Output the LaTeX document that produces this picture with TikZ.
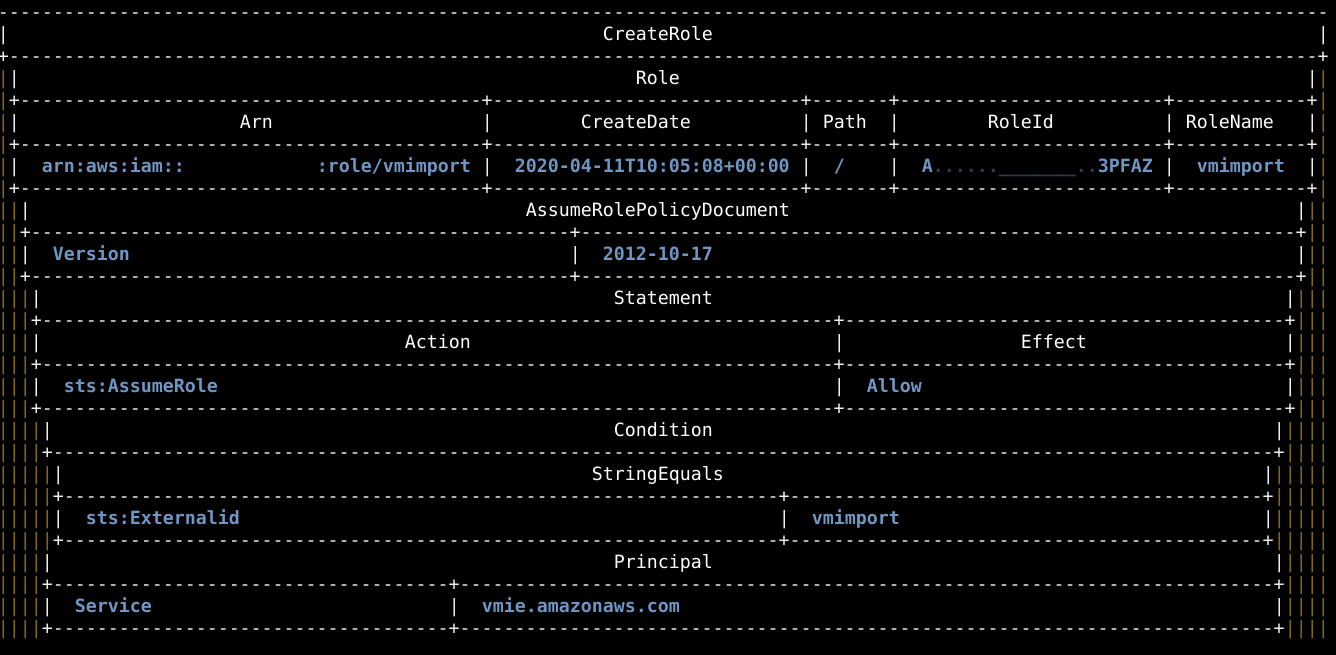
\documentclass[tikz,border=0pt]{standalone}
\usepackage{fontspec}
\usepackage{tikz}
\newfontfamily\term{DejaVu Sans Mono}
\newcommand\termfont{\term\fontsize{13.7032pt}{16.5pt}\selectfont}
\newcommand\dashrun[1]{\foreach \i in {1,...,#1}{-}}
\definecolor{rimwhite}{RGB}{238,238,238}
\definecolor{rimgold}{RGB}{132,102,20}
\definecolor{valblue}{RGB}{112,150,196}
\definecolor{smudge}{RGB}{48,60,78}
\tikzset{
  txt/.style={anchor=base west, inner sep=0pt, font=\termfont},
  rim/.style={txt, text=rimwhite},
  goldrim/.style={txt, text=rimgold},
  head/.style={txt, text=white},
  val/.style={txt, text=valblue, font=\termfont\bfseries},
  pics/bars/.style={
    code = {
        \node [goldrim] {\foreach \i in {1,...,#1}{|}};
    }
  },
  pics/rule/.style={
    code = {
        \node [rim] {+\foreach \n in #1 {\dashrun{\n}+}};
    }
  }
}
\begin{document}
\begin{tikzpicture}
  \fill [black] (0,0) rectangle (1002pt,-491.25pt);
  \useasboundingbox (0,0) rectangle (1002pt,-491.25pt);
  \begin{scope}[shift={(-1.875pt,-14.25pt)}, x=8.25pt, y=-16.5pt]
    % borders of the outer tables, kept in gold
    \foreach \a/\b/\d in {3/8/1, 9/12/2, 13/18/3, 19/20/4, 21/24/5, 25/28/4}
        \foreach \r in {\a,...,\b} {
            \pic at (0,\r) {bars=\d};
            \pic at ({121-\d},\r) {bars=\d};
        }
    % dashed rules
    \node [rim] (top) at (0,0) {\dashrun{121}};
    \foreach \r/\c/\segs in {2/0/{119}, 4/1/{42,28,7,24,12}, 6/1/{42,28,7,24,12}, 8/1/{42,28,7,24,12},
        10/2/{49,65}, 12/2/{49,65}, 14/3/{72,40}, 16/3/{72,40}, 18/3/{72,40}, 20/4/{111},
        22/5/{65,43}, 24/5/{65,43}, 26/4/{36,74}, 28/4/{36,74}}
        \pic at (\c,\r) {rule=\segs};
    % column bars
    \foreach \r/\cols in {1/{0,120}, 3/{1,119}, 5/{1,44,73,81,106,119}, 7/{1,44,73,81,106,119},
        9/{2,118}, 11/{2,52,118}, 13/{3,117}, 15/{3,76,117}, 17/{3,76,117}, 19/{4,116},
        21/{5,115}, 23/{5,71,115}, 25/{4,116}, 27/{4,41,116}}
        \foreach \c in \cols
            \node [rim] at (\c,\r) {|};

    \node [head] (createrole) at (55,1) {CreateRole};
    \node [head] (role) at (58,3) {Role};
    \node [head] (arn) at (22,5) {Arn};
    \node [head] (createdate) at (53,5) {CreateDate};
    \node [head] (path) at (75,5) {Path};
    \node [head] (roleid) at (90,5) {RoleId};
    \node [head] (rolename) at (108,5) {RoleName};
    \node [head] (policy) at (48,9) {AssumeRolePolicyDocument};
    \node [head] (statement) at (56,13) {Statement};
    \node [head] (action) at (37,15) {Action};
    \node [head] (effect) at (93,15) {Effect};
    \node [head] (condition) at (56,19) {Condition};
    \node [head] (stringequals) at (54,21) {StringEquals};
    \node [head] (principal) at (56,25) {Principal};

    \node [val] (arnval) at (4,7) {arn:aws:iam::};
    \node [val] (arnrole) at (29,7) {:role/vmimport};
    \node [val] (dateval) at (47,7) {2020-04-11T10:05:08+00:00};
    \node [val] (pathval) at (76,7) {/};
    \node [val] (roleidval) at (84,7) {A\textcolor{smudge}{......\_\_\_\_\_\_\_..}3PFAZ};
    \node [val] (rolenameval) at (109,7) {vmimport};
    \node [val] (version) at (5,11) {Version};
    \node [val] (versionval) at (55,11) {2012-10-17};
    \node [val] (actionval) at (6,17) {sts:AssumeRole};
    \node [val] (effectval) at (79,17) {Allow};
    \node [val] (extid) at (8,23) {sts:Externalid};
    \node [val] (extidval) at (74,23) {vmimport};
    \node [val] (service) at (7,27) {Service};
    \node [val] (serviceval) at (44,27) {vmie.amazonaws.com};
  \end{scope}
\end{tikzpicture}
\end{document}
